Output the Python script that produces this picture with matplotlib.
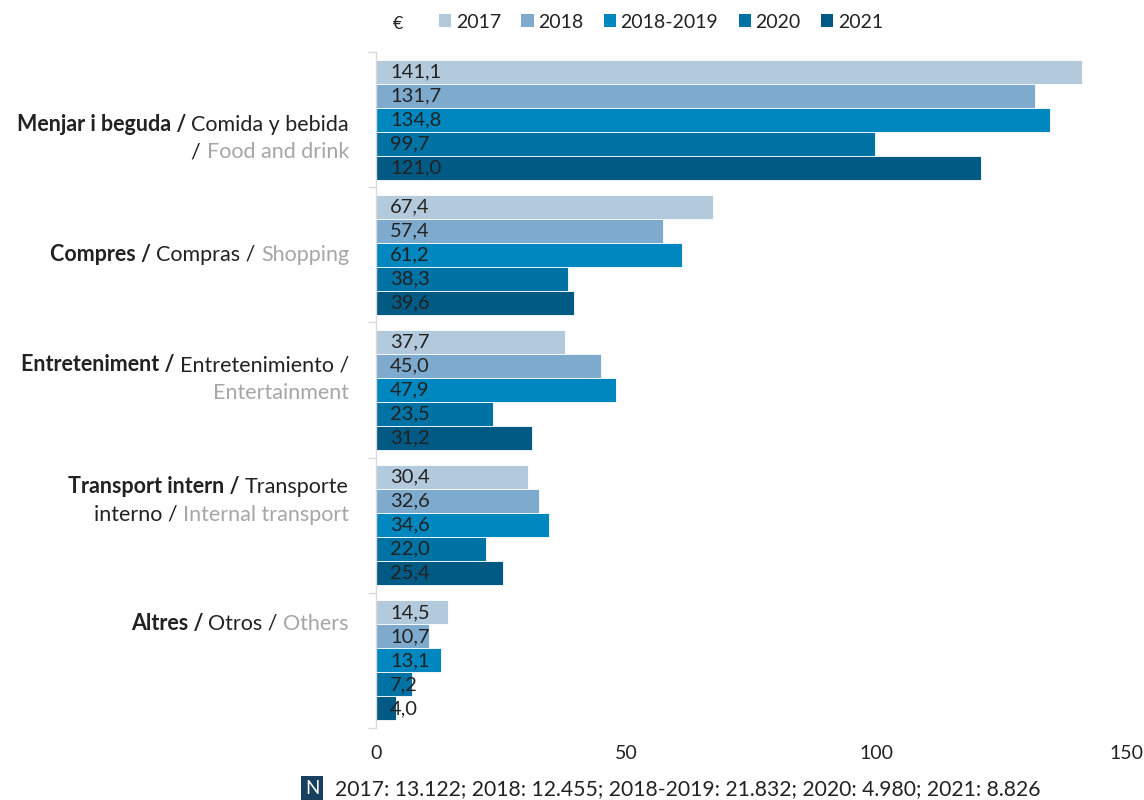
import matplotlib.pyplot as plt
import numpy as np
from matplotlib.patches import Patch
from matplotlib.transforms import blended_transform_factory

plt.rcParams["font.family"] = ["Lato", "DejaVu Sans"]

# Average daily spend per tourist by category (EUR)
series = ["2017", "2018", "2018-2019", "2020", "2021"]
values_2017 = [141.1, 67.4, 37.7, 30.4, 14.5]
values_2018 = [131.7, 57.4, 45.0, 32.6, 10.7]
values_1819 = [134.8, 61.2, 47.9, 34.6, 13.1]
values_2020 = [99.7, 38.3, 23.5, 22.0, 7.2]
values_2021 = [121.0, 39.6, 31.2, 25.4, 4.0]
sample_note = "2017: 13.122; 2018: 12.455; 2018-2019: 21.832; 2020: 4.980; 2021: 8.826"

# category labels: lines of (text, weight, colour-key) runs, Catalan / Spanish / English
categories = [
    [[("Menjar i beguda / ", "bold", "ca"), ("Comida y bebida", "normal", "es")],
     [("/ ", "normal", "es"), ("Food and drink", "normal", "en")]],
    [[("Compres / ", "bold", "ca"), ("Compras / ", "normal", "es"), ("Shopping", "normal", "en")]],
    [[("Entreteniment / ", "bold", "ca"), ("Entretenimiento /", "normal", "es")],
     [("Entertainment", "normal", "en")]],
    [[("Transport intern / ", "bold", "ca"), ("Transporte", "normal", "es")],
     [("interno / ", "normal", "es"), ("Internal transport", "normal", "en")]],
    [[("Altres / ", "bold", "ca"), ("Otros / ", "normal", "es"), ("Others", "normal", "en")]],
]
label_shift = [0.14, 0.0, -0.08, -0.18, -0.27]

colors = ["#b3c9dc", "#7eaacd", "#0087bf", "#0072a3", "#005a84"]
text_colors = {"ca": "#222222", "es": "#222222", "en": "#a6a6a6"}
FS = 14
FS_CAT = 15.5

fig = plt.figure(figsize=(11.44, 8.0), dpi=100)
ax = fig.add_axes([376 / 1144, 72 / 800, 750 / 1144, 676 / 800])

data = [values_2017, values_2018, values_1819, values_2020, values_2021]
n_cat = len(categories)
y = np.arange(n_cat)
bar_h = 0.1775
for i, (name, vals, c) in enumerate(zip(series, data, colors)):
    pos = y + (i - 2) * bar_h
    ax.barh(pos, vals, height=bar_h, color=c, edgecolor="white", linewidth=0.6, label=name)
    for p, v in zip(pos, vals):
        ax.annotate(f"{v:.1f}".replace(".", ","), xy=(0, p), xytext=(14, 0),
                    textcoords="offset pixels", ha="left", va="center",
                    fontsize=FS + 0.5, color="#222222")

ax.set_xlim(0, 150)
ax.set_ylim(n_cat - 0.5, -0.5)
ax.set_xticks([0, 50, 100, 150])
ax.tick_params(axis="x", length=0, labelsize=FS, colors="#222222", pad=12)
ax.set_yticks([])
ax.set_yticks(np.arange(-0.5, n_cat), minor=True)
ax.tick_params(axis="y", which="minor", length=6, width=1, color="#d9d9d9",
               direction="out", labelleft=False)
for side in ("top", "right", "bottom"):
    ax.spines[side].set_visible(False)
ax.spines["left"].set_color("#d9d9d9")
ax.spines["left"].set_linewidth(1)

# multi-style category labels, built right to left so runs butt together
trans = blended_transform_factory(ax.transAxes, ax.transData)
line_gap = 0.203
for i, lines in enumerate(categories):
    top = i + label_shift[i] - line_gap * (len(lines) - 1) / 2
    for k, runs in enumerate(lines):
        prev = None
        for text, weight, key in reversed(runs):
            kw = dict(ha="right", fontsize=FS_CAT, fontweight=weight, color=text_colors[key])
            if prev is None:
                prev = ax.annotate(text, xy=(-0.036, top + k * line_gap), xycoords=trans,
                                   va="center", annotation_clip=False, **kw)
            else:
                prev = ax.annotate(text, xy=(0, 0), xycoords=prev, va="bottom",
                                   annotation_clip=False, **kw)

# legend across the top
handles = [Patch(facecolor=c, edgecolor="none", label=s) for s, c in zip(series, colors)]
fig.legend(handles=handles, loc="center left", bbox_to_anchor=(439 / 1144, 1 - 22 / 800),
           ncol=5, frameon=False, fontsize=FS, handlelength=0.64, handleheight=0.64,
           handletextpad=0.22, columnspacing=1.05, borderaxespad=0, borderpad=0,
           labelcolor="#222222")
fig.text(398 / 1144, 1 - 24 / 800, "€", ha="center", va="center", fontsize=FS - 1,
         color="#222222")

# sample sizes footnote
fig.text(312 / 1144, 1 - 788 / 800, "N", ha="center", va="center", fontsize=FS - 0.5,
         color="white",
         bbox=dict(boxstyle="square,pad=0.2", facecolor="#173f5f", edgecolor="none"))
fig.text(335 / 1144, 1 - 789 / 800, sample_note, ha="left", va="center", fontsize=15.2,
         color="#222222")

fig.savefig("out.png", dpi=100, facecolor="white")
